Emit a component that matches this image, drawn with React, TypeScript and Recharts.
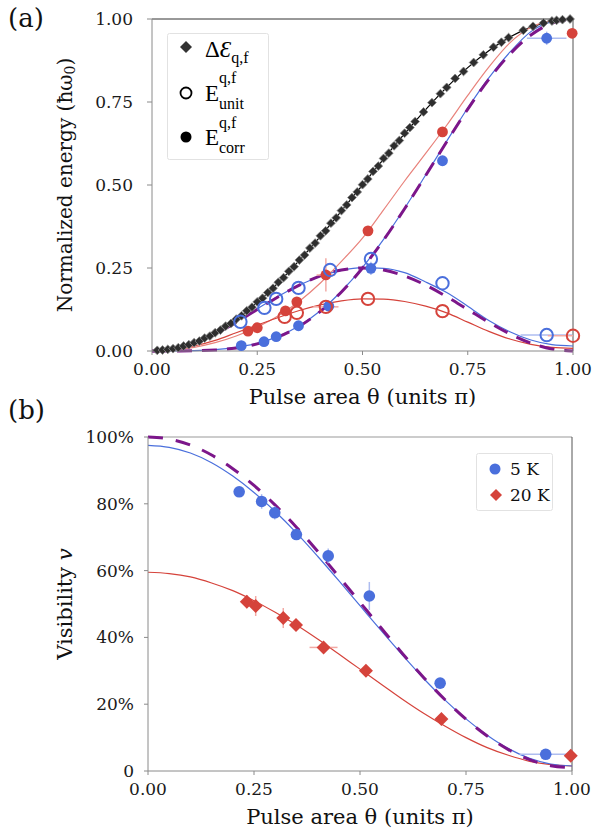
import React from 'react';
import { ComposedChart, Line, Scatter, XAxis, YAxis, ErrorBar, ReferenceLine, Label } from 'recharts';

const SERIF = '"DejaVu Serif", "Liberation Serif", serif';
const TIMES = '"Liberation Serif", "DejaVu Serif", serif';

const BLUE = '#4a6fdc';
const RED = '#d5433b';
const RED_LIGHT = '#e8827b';
const PURPLE = '#7c168a';
const BLUE_ERR = '#aebdf0';
const RED_ERR = '#f2aaa5';

// ---------- Panel (a) ----------
const thetaTicks = [0, 0.25, 0.5, 0.75, 1];
const energyTicks = [0, 0.25, 0.5, 0.75, 1];

const fitTheta = [0, 0.05, 0.1, 0.15, 0.2, 0.25, 0.3, 0.35, 0.4, 0.45, 0.5, 0.55, 0.6, 0.65, 0.7, 0.75, 0.8, 0.85, 0.9, 0.95, 1];
const deltaFit = [0, 0.0062, 0.0245, 0.0545, 0.0955, 0.1464, 0.2061, 0.273, 0.3455, 0.4218, 0.5, 0.5782, 0.6545, 0.727, 0.7939, 0.8536, 0.9045, 0.9455, 0.9755, 0.9938, 1];
const redCorrFit = [0, 0.003, 0.011, 0.025, 0.045, 0.072, 0.106, 0.15, 0.205, 0.27, 0.34, 0.425, 0.512, 0.595, 0.68, 0.77, 0.855, 0.928, 0.975, 0.995, 1.0];
const blueCorrFit = [0, 0.0002, 0.001, 0.004, 0.011, 0.023, 0.044, 0.076, 0.121, 0.18, 0.252, 0.336, 0.43, 0.53, 0.632, 0.732, 0.823, 0.9, 0.962, 0.992, 1.0];
const idealCorr = [0, 0.00004, 0.0006, 0.003, 0.0091, 0.0214, 0.0425, 0.0745, 0.1194, 0.1779, 0.25, 0.3343, 0.4284, 0.5285, 0.6303, 0.7286, 0.8181, 0.894, 0.9516, 0.9876, 1];
const idealUnit = [0, 0.0061, 0.0239, 0.0515, 0.0864, 0.125, 0.1636, 0.1985, 0.2261, 0.2439, 0.25, 0.2439, 0.2261, 0.1985, 0.1636, 0.125, 0.0864, 0.0515, 0.0239, 0.0061, 0];
const blueUnitFit = [0, 0.007, 0.026, 0.054, 0.089, 0.127, 0.165, 0.198, 0.225, 0.243, 0.251, 0.249, 0.236, 0.208, 0.176, 0.135, 0.092, 0.058, 0.033, 0.019, 0.015];
const redUnitFit = [0, 0.004, 0.015, 0.032, 0.055, 0.078, 0.101, 0.122, 0.139, 0.151, 0.157, 0.156, 0.149, 0.135, 0.115, 0.087, 0.059, 0.036, 0.02, 0.011, 0.008];

const deltaTheta = [
  0.0125, 0.025, 0.0375, 0.05, 0.0625, 0.075, 0.0875, 0.1, 0.1125, 0.125, 0.1375, 0.15, 0.1625, 0.175, 0.1875, 0.2,
  0.2125, 0.225, 0.2375, 0.25, 0.2625, 0.275, 0.2875, 0.3, 0.3125, 0.325, 0.3375, 0.35, 0.3625, 0.375, 0.3875, 0.4,
  0.4125, 0.425, 0.4375, 0.45, 0.4625, 0.475, 0.4875, 0.5, 0.5125, 0.525, 0.5375, 0.55, 0.5625, 0.575, 0.5875, 0.6,
  0.6125, 0.625, 0.645, 0.665, 0.685, 0.7, 0.72, 0.74, 0.764, 0.787, 0.811, 0.83, 0.847, 0.882, 0.905, 0.93, 0.95, 0.961, 0.975, 0.993,
];
const deltaValues = [
  0.002, 0.003, 0.005, 0.007, 0.01, 0.015, 0.019, 0.025, 0.03, 0.039, 0.045, 0.055, 0.063, 0.075, 0.083, 0.096,
  0.106, 0.121, 0.132, 0.148, 0.159, 0.176, 0.189, 0.207, 0.221, 0.24, 0.254, 0.274, 0.289, 0.31, 0.325, 0.347,
  0.362, 0.385, 0.401, 0.423, 0.44, 0.462, 0.479, 0.501, 0.518, 0.541, 0.557, 0.58, 0.596, 0.618, 0.634, 0.656,
  0.673, 0.691, 0.72, 0.748, 0.775, 0.794, 0.821, 0.842, 0.869, 0.892, 0.915, 0.93, 0.944, 0.966, 0.978, 0.988, 0.994, 0.996, 0.998, 1.0,
];

const blueCorrTheta = [0.212, 0.266, 0.295, 0.348, 0.42, 0.52, 0.69, 0.9375];
const blueCorrValues = [0.016, 0.028, 0.043, 0.076, 0.135, 0.249, 0.573, 0.942];
const blueCorrErrX = [0, 0, 0, 0, 0, 0, 0, 0.047];
const blueCorrErrY = [0, 0, 0, 0, 0, 0.02, 0, 0.02];

const redCorrTheta = [0.228, 0.25, 0.317, 0.344, 0.413, 0.513, 0.69, 0.998];
const redCorrValues = [0.06, 0.07, 0.121, 0.148, 0.229, 0.362, 0.66, 0.957];
const redCorrErrX = [0, 0.012, 0, 0, 0.022, 0, 0, 0];
const redCorrErrY = [0, 0.012, 0, 0, 0.05, 0, 0, 0];

const blueUnitTheta = [0.21, 0.267, 0.295, 0.348, 0.423, 0.52, 0.69, 0.9375];
const blueUnitValues = [0.088, 0.13, 0.157, 0.19, 0.244, 0.277, 0.204, 0.048];
const blueUnitErrX: (number | number[])[] = [0, 0, 0, 0, 0, 0, 0, [0.062, 0.06]];

const redUnitTheta = [0.315, 0.344, 0.413, 0.513, 0.69, 1.0];
const redUnitValues = [0.103, 0.115, 0.133, 0.157, 0.12, 0.046];
const redUnitErrX: (number | number[])[] = [0, 0, 0.03, 0, 0, [0.06, 0]];

// ---------- Panel (b) ----------
const visTicks = [0, 0.2, 0.4, 0.6, 0.8, 1];
const fit5K = [0.975, 0.969, 0.952, 0.923, 0.883, 0.834, 0.777, 0.713, 0.643, 0.57, 0.495, 0.42, 0.347, 0.277, 0.213, 0.156, 0.107, 0.067, 0.038, 0.021, 0.015];
const fit20K = [0.595, 0.591, 0.581, 0.563, 0.54, 0.51, 0.475, 0.437, 0.395, 0.35, 0.305, 0.26, 0.215, 0.173, 0.135, 0.1, 0.07, 0.047, 0.029, 0.019, 0.015];
const idealVis = [1.0, 0.994, 0.976, 0.946, 0.905, 0.855, 0.796, 0.73, 0.658, 0.582, 0.505, 0.428, 0.352, 0.28, 0.214, 0.155, 0.105, 0.064, 0.034, 0.016, 0.01];

const vis5Theta = [0.215, 0.268, 0.299, 0.35, 0.425, 0.522, 0.689, 0.938];
const vis5Values = [0.836, 0.807, 0.773, 0.708, 0.644, 0.524, 0.263, 0.05];
const vis5ErrX: (number | number[])[] = [0, 0, 0, 0, 0, 0, 0, [0.062, 0.06]];
const vis5ErrY = [0.01, 0.022, 0.02, 0.015, 0.022, 0.042, 0, 0.012];

const vis20Theta = [0.233, 0.254, 0.319, 0.349, 0.414, 0.514, 0.692, 0.997];
const vis20Values = [0.507, 0.494, 0.458, 0.437, 0.37, 0.3, 0.156, 0.046];
const vis20ErrX = [0, 0, 0, 0, 0.033, 0, 0, 0];
const vis20ErrY = [0.02, 0.03, 0.03, 0.015, 0.015, 0, 0, 0];

// ---------- tables ----------
const rowsA = fitTheta.map((x, i) => ({
  x,
  delta: deltaFit[i],
  redCorr: redCorrFit[i],
  blueCorr: blueCorrFit[i],
  idealCorr: idealCorr[i],
  idealUnit: idealUnit[i],
  blueUnit: blueUnitFit[i],
  redUnit: redUnitFit[i],
}));
const rowsB = fitTheta.map((x, i) => ({ x, k5: fit5K[i], k20: fit20K[i], ideal: idealVis[i] }));

const pts = (xs: number[], ys: number[], ex?: any[], ey?: any[]) =>
  xs.map((x, i) => ({ x, y: ys[i], ex: ex ? ex[i] : 0, ey: ey ? ey[i] : 0 }));

const deltaPts = pts(deltaTheta, deltaValues);
const blueCorrPts = pts(blueCorrTheta, blueCorrValues, blueCorrErrX, blueCorrErrY);
const redCorrPts = pts(redCorrTheta, redCorrValues, redCorrErrX, redCorrErrY);
const blueUnitPts = pts(blueUnitTheta, blueUnitValues, blueUnitErrX);
const redUnitPts = pts(redUnitTheta, redUnitValues, redUnitErrX);
const vis5Pts = pts(vis5Theta, vis5Values, vis5ErrX, vis5ErrY);
const vis20Pts = pts(vis20Theta, vis20Values, vis20ErrX, vis20ErrY);

// ---------- shapes ----------
const dotShape = (color: string, r: number) => (p: any) => <circle cx={p.cx} cy={p.cy} r={r} fill={color} />;
const ringShape = (color: string, r: number) => (p: any) => (
  <circle cx={p.cx} cy={p.cy} r={r} fill="none" stroke={color} strokeWidth={2} />
);
const diamondShape = (color: string, h: number, stroke?: string) => (p: any) => (
  <path
    d={`M${p.cx},${p.cy - h}L${p.cx + h},${p.cy}L${p.cx},${p.cy + h}L${p.cx - h},${p.cy}Z`}
    fill={color}
    stroke={stroke || 'none'}
    strokeWidth={stroke ? 0.8 : 0}
  />
);

const tickStyle = { fontFamily: SERIF, fontSize: 17, fill: '#1a1a1a' };
const AXIS = '#8a8a8a';

const XTitle = (props: any) => {
  const vb = props.viewBox || { x: 0, y: 0, width: 0 };
  return (
    <text x={vb.x + vb.width / 2} y={vb.y + 53} textAnchor="middle" fontFamily={SERIF} fontSize={21} fill="#111">
      Pulse area θ (units π)
    </text>
  );
};
const YTitleA = (props: any) => {
  const vb = props.viewBox || { x: 0, y: 0, height: 0 };
  const cx = vb.x + 65;
  const cy = vb.y + vb.height / 2;
  return (
    <text x={cx} y={cy} transform={`rotate(-90 ${cx} ${cy})`} textAnchor="middle" dominantBaseline="central" fontFamily={SERIF} fontSize={20} fill="#111">
      Normalized energy (ħω<tspan dy={5} fontSize={14}>0</tspan><tspan dy={-5}>)</tspan>
    </text>
  );
};
const YTitleB = (props: any) => {
  const vb = props.viewBox || { x: 0, y: 0, height: 0 };
  const cx = vb.x + 65;
  const cy = vb.y + vb.height / 2;
  return (
    <text x={cx} y={cy} transform={`rotate(-90 ${cx} ${cy})`} textAnchor="middle" dominantBaseline="central" fontFamily={SERIF} fontSize={21} fill="#111">
      Visibility <tspan fontStyle="italic">v</tspan>
    </text>
  );
};

const fmt2 = (v: number) => v.toFixed(2);
const fmtPct = (v: number) => (v === 0 ? '0' : `${Math.round(v * 100)}%`);

export default function App() {
  return (
    <div style={{ position: 'absolute', left: 0, top: 0, width: 592, height: 835, background: '#fff', fontFamily: SERIF }}>
      <div style={{ position: 'absolute', left: 0, top: 0 }}>
        <ComposedChart width={592} height={410} data={rowsA} margin={{ top: 19, right: 19, bottom: 9, left: 0 }}>
          <XAxis
            type="number"
            dataKey="x"
            domain={[0, 1]}
            ticks={thetaTicks}
            interval={0}
            tickFormatter={fmt2}
            height={50}
            tickSize={4}
            tickMargin={8}
            tick={tickStyle}
            axisLine={{ stroke: AXIS }}
            tickLine={{ stroke: AXIS }}
          >
            <Label content={XTitle} />
          </XAxis>
          <YAxis
            type="number"
            dataKey="y"
            domain={[0, 1]}
            ticks={energyTicks}
            interval={0}
            tickFormatter={fmt2}
            width={152}
            tickSize={5}
            tickMargin={14}
            tick={tickStyle}
            axisLine={{ stroke: AXIS }}
            tickLine={{ stroke: AXIS }}
          >
            <Label content={YTitleA} />
          </YAxis>
          <ReferenceLine y={1} stroke="#333" strokeWidth={1} />
          <ReferenceLine x={1} stroke="#555" strokeWidth={1} />
          <Line type="monotone" dataKey="delta" stroke="#000" strokeWidth={1.2} dot={false} activeDot={false} isAnimationActive={false} />
          <Line type="monotone" dataKey="redCorr" stroke={RED_LIGHT} strokeWidth={1.2} dot={false} activeDot={false} isAnimationActive={false} />
          <Line type="monotone" dataKey="redUnit" stroke={RED} strokeWidth={1.2} dot={false} activeDot={false} isAnimationActive={false} />
          <Line type="monotone" dataKey="blueCorr" stroke={BLUE} strokeWidth={1.2} dot={false} activeDot={false} isAnimationActive={false} />
          <Line type="monotone" dataKey="blueUnit" stroke={BLUE} strokeWidth={1.2} dot={false} activeDot={false} isAnimationActive={false} />
          <Line type="monotone" dataKey="idealCorr" stroke={PURPLE} strokeWidth={3} strokeDasharray="15 10" dot={false} activeDot={false} isAnimationActive={false} />
          <Line type="monotone" dataKey="idealUnit" stroke={PURPLE} strokeWidth={3} strokeDasharray="15 10" dot={false} activeDot={false} isAnimationActive={false} />
          <Scatter data={deltaPts} dataKey="y" shape={diamondShape('#2e2e2e', 4.4, '#888')} isAnimationActive={false} />
          <Scatter data={blueCorrPts} dataKey="y" shape={dotShape(BLUE, 5.4)} isAnimationActive={false}>
            <ErrorBar dataKey="ex" direction="x" width={0} stroke={BLUE_ERR} strokeWidth={1.5} />
            <ErrorBar dataKey="ey" direction="y" width={0} stroke={BLUE_ERR} strokeWidth={1.5} />
          </Scatter>
          <Scatter data={redCorrPts} dataKey="y" shape={dotShape(RED, 5.4)} isAnimationActive={false}>
            <ErrorBar dataKey="ex" direction="x" width={0} stroke={RED_ERR} strokeWidth={1.5} />
            <ErrorBar dataKey="ey" direction="y" width={0} stroke={RED_ERR} strokeWidth={1.5} />
          </Scatter>
          <Scatter data={blueUnitPts} dataKey="y" shape={ringShape(BLUE, 6.2)} isAnimationActive={false}>
            <ErrorBar dataKey="ex" direction="x" width={0} stroke={BLUE_ERR} strokeWidth={1.5} />
          </Scatter>
          <Scatter data={redUnitPts} dataKey="y" shape={ringShape(RED, 6.2)} isAnimationActive={false}>
            <ErrorBar dataKey="ex" direction="x" width={0} stroke={RED_ERR} strokeWidth={1.5} />
          </Scatter>
        </ComposedChart>
      </div>

      <div style={{ position: 'absolute', left: 0, top: 420 }}>
        <ComposedChart width={592} height={415} data={rowsB} margin={{ top: 17, right: 20, bottom: 14, left: 0 }}>
          <XAxis
            type="number"
            dataKey="x"
            domain={[0, 1]}
            ticks={thetaTicks}
            interval={0}
            tickFormatter={fmt2}
            height={50}
            tickSize={4}
            tickMargin={8}
            tick={tickStyle}
            axisLine={{ stroke: AXIS }}
            tickLine={{ stroke: AXIS }}
          >
            <Label content={XTitle} />
          </XAxis>
          <YAxis
            type="number"
            dataKey="y"
            domain={[0, 1]}
            ticks={visTicks}
            interval={0}
            tickFormatter={fmtPct}
            width={148}
            tickSize={4}
            tickMargin={10}
            tick={tickStyle}
            axisLine={{ stroke: AXIS }}
            tickLine={{ stroke: AXIS }}
          >
            <Label content={YTitleB} />
          </YAxis>
          <ReferenceLine y={1} stroke="#999" strokeWidth={1} />
          <ReferenceLine x={1} stroke="#555" strokeWidth={1} />
          <Line type="monotone" dataKey="k20" stroke={RED} strokeWidth={1.2} dot={false} activeDot={false} isAnimationActive={false} />
          <Line type="monotone" dataKey="k5" stroke={BLUE} strokeWidth={1.2} dot={false} activeDot={false} isAnimationActive={false} />
          <Line type="monotone" dataKey="ideal" stroke={PURPLE} strokeWidth={3} strokeDasharray="15 13" dot={false} activeDot={false} isAnimationActive={false} />
          <Scatter data={vis5Pts} dataKey="y" shape={dotShape(BLUE, 5.8)} isAnimationActive={false}>
            <ErrorBar dataKey="ex" direction="x" width={0} stroke={BLUE_ERR} strokeWidth={1.5} />
            <ErrorBar dataKey="ey" direction="y" width={0} stroke={BLUE_ERR} strokeWidth={1.5} />
          </Scatter>
          <Scatter data={vis20Pts} dataKey="y" shape={diamondShape(RED, 7)} isAnimationActive={false}>
            <ErrorBar dataKey="ex" direction="x" width={0} stroke={RED_ERR} strokeWidth={1.5} />
            <ErrorBar dataKey="ey" direction="y" width={0} stroke={RED_ERR} strokeWidth={1.5} />
          </Scatter>
        </ComposedChart>
      </div>

      {/* Legend (a) */}
      <svg style={{ position: 'absolute', left: 167, top: 33 }} width={103} height={128}>
        <rect x={0.5} y={0.5} width={101} height={126} rx={2} fill="#fff" stroke="#e2e2e2" />
        <path d="M19,8L25,14L19,20L13,14Z" fill="#333" />
        <text x={38} y={24} fontFamily={TIMES} fontSize={23} fill="#000">
          Δ<tspan fontStyle="italic">Ɛ</tspan>
          <tspan dy={6} fontSize={16}>q,f</tspan>
        </text>
        <circle cx={19} cy={60} r={5.5} fill="none" stroke="#000" strokeWidth={1.8} />
        <text x={38} y={68} fontFamily={TIMES} fontSize={23} fill="#000">E</text>
        <text x={52} y={50} fontFamily={TIMES} fontSize={16} fill="#000">q,f</text>
        <text x={52} y={76} fontFamily={TIMES} fontSize={16} fill="#000">unit</text>
        <circle cx={19} cy={104} r={5.5} fill="#000" />
        <text x={38} y={112} fontFamily={TIMES} fontSize={23} fill="#000">E</text>
        <text x={52} y={95} fontFamily={TIMES} fontSize={16} fill="#000">q,f</text>
        <text x={52} y={120} fontFamily={TIMES} fontSize={16} fill="#000">corr</text>
      </svg>

      {/* Legend (b) */}
      <svg style={{ position: 'absolute', left: 476, top: 453 }} width={78} height={59}>
        <rect x={0.5} y={0.5} width={76} height={57} rx={2} fill="#fff" stroke="#e2e2e2" />
        <circle cx={19} cy={16} r={5.5} fill={BLUE} />
        <text x={34} y={22} fontFamily={SERIF} fontSize={17} fill="#111">5 K</text>
        <path d="M20,36L26,42L20,48L14,42Z" fill={RED} />
        <text x={34} y={48} fontFamily={SERIF} fontSize={17} fill="#111">20 K</text>
      </svg>

      {/* Panel letters */}
      <div style={{ position: 'absolute', left: 8, top: 0, fontFamily: SERIF, fontSize: 26, lineHeight: '36px', color: '#111' }}>(a)</div>
      <div style={{ position: 'absolute', left: 8, top: 392, fontFamily: SERIF, fontSize: 26, lineHeight: '36px', color: '#111' }}>(b)</div>
    </div>
  );
}
